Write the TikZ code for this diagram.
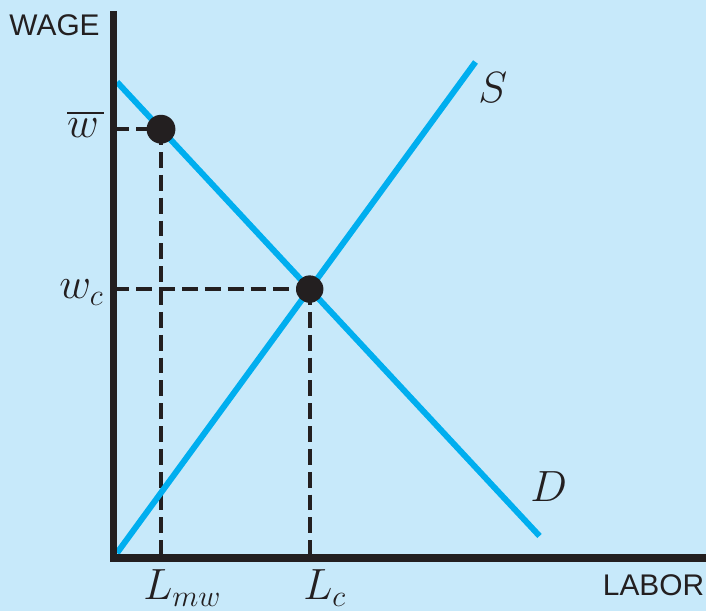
\documentclass[tikz,border=0pt]{standalone}
\usepackage{amsmath}
\usepackage{fontspec}
\setsansfont{Liberation Sans}
\usetikzlibrary{calc}
\definecolor{bgblue}{RGB}{199,233,250}
\definecolor{curveblue}{RGB}{0,174,239}
\definecolor{inkblack}{RGB}{35,31,32}

\begin{document}
\begin{tikzpicture}[x=0.02cm,y=0.02cm,
  axis/.style={line width=4pt,inkblack},
  curve/.style={line width=3.4pt,curveblue},
  guide/.style={line width=2.2pt,inkblack,dash pattern=on 9pt off 4pt},
  dot/.style={fill=inkblack},
  lab/.style={font=\fontsize{25}{30}\selectfont,text=inkblack,inner sep=0pt},
  ttl/.style={font=\sffamily\fontsize{17}{20}\selectfont,text=inkblack,inner sep=0pt}]
\fill[bgblue] (-113.5,-53) rectangle (592.5,558);
\useasboundingbox (-113.5,-53) rectangle (592.5,558);
\coordinate (o) at (0,0);
\coordinate (s0) at (3.5,5);
\coordinate (s1) at (362,496);
\coordinate (d0) at (3.5,476);
\coordinate (d1) at (426,22);
\coordinate (eq) at (intersection of s0--s1 and d0--d1);
\coordinate (mw) at (47.5,428.8);
% guides
\draw[guide] (mw -| o) -- (mw);
\draw[guide] (mw) -- (mw |- o);
\draw[guide] (eq -| o) -- (eq);
\draw[guide] (eq) -- (eq |- o);
% supply and demand
\draw[curve] (s0) -- (s1);
\draw[curve] (d0) -- (d1);
\draw[axis] (0,547) -- (o) -- (592.5,0);
\fill[dot] (mw) circle[radius=8.2pt];
\fill[dot] (eq) circle[radius=7.8pt];
% labels
\node[ttl,anchor=east] (wage) at (-13.5,533) {WAGE};
\node[ttl,anchor=east] (labor) at (591,-27) {LABOR};
\node[lab,anchor=base east] (wbar) at (-9.5,420) {$\overline{w\mkern2mu}$};
\node[lab,anchor=base east] (wc) at (-9.5,259) {$w_c$};
\node[lab,anchor=base west] (lmw) at (29.5,-42) {$L_{mw}$};
\node[lab,anchor=base west] (lc) at (189.5,-42) {$L_c$};
\node[lab,anchor=base west] (slab) at (364.5,455) {$S$};
\node[lab,anchor=base west] (dlab) at (416.5,56) {$D$};
\end{tikzpicture}
\end{document}
